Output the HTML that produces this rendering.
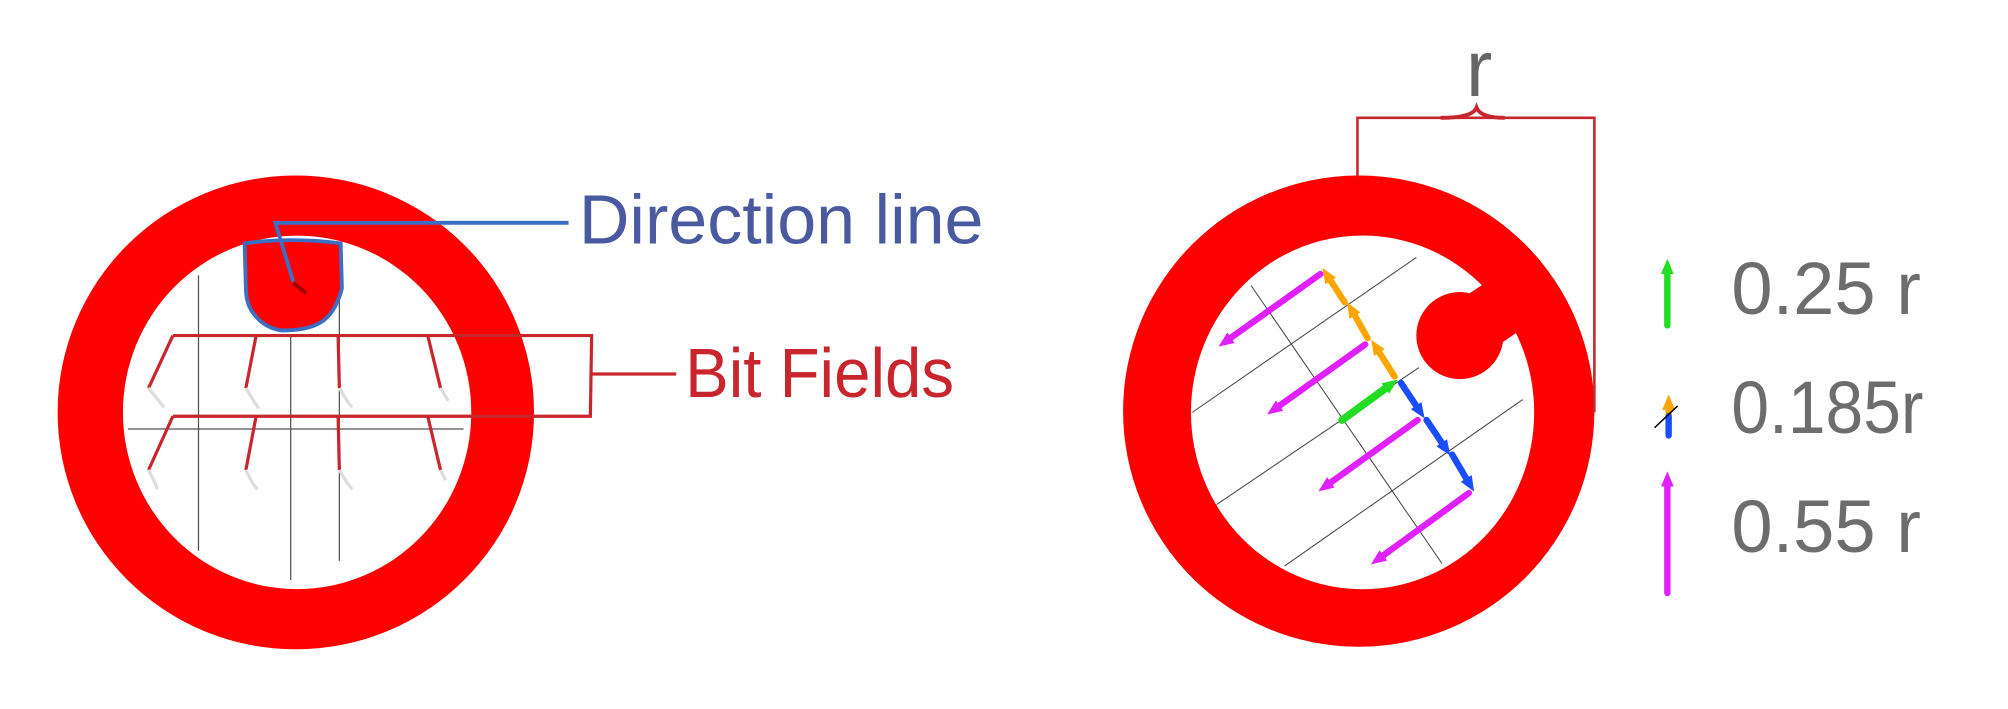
<!DOCTYPE html>
<html><head><meta charset="utf-8"><style>
html,body{margin:0;padding:0;background:#fff;width:2008px;height:709px;overflow:hidden}
svg{display:block}
text{font-family:"Liberation Sans",sans-serif}
</style></head><body>
<svg width="2008" height="709" viewBox="0 0 1568 553.6" xmlns="http://www.w3.org/2000/svg">
<defs>
<marker id="hm" markerUnits="userSpaceOnUse" markerWidth="12" markerHeight="10" refX="4" refY="5" orient="auto"><path d="M0,0 L12,5 L0,10 z" fill="#e020ff"/></marker>
<marker id="ho" markerUnits="userSpaceOnUse" markerWidth="12" markerHeight="10" refX="4" refY="5" orient="auto"><path d="M0,0 L12,5 L0,10 z" fill="#ffa500"/></marker>
<marker id="hg" markerUnits="userSpaceOnUse" markerWidth="12" markerHeight="10" refX="4" refY="5" orient="auto"><path d="M0,0 L12,5 L0,10 z" fill="#22dd22"/></marker>
<marker id="hb" markerUnits="userSpaceOnUse" markerWidth="12" markerHeight="10" refX="4" refY="5" orient="auto"><path d="M0,0 L12,5 L0,10 z" fill="#1a4dff"/></marker>
</defs>
<g>
<path fill="#ff0000" fill-rule="evenodd" d="M45,322 a186,185 0 1,0 372,0 a186,185 0 1,0 -372,0 Z M96,322 a136,138 0 1,0 272,0 a136,138 0 1,0 -272,0 Z"/>
<g stroke="#555" stroke-width="1">
<line x1="155" y1="215" x2="155" y2="430"/><line x1="227" y1="262" x2="227" y2="453"/><line x1="265" y1="212" x2="265" y2="438"/>
<line x1="100" y1="335" x2="362" y2="335"/>
</g>
<path d="M191,190 Q228,185 266,190 L267,225 Q262,245 250,252 Q240,258 220,258 Q205,256 196,242 Q192,235 192,225 Z" fill="#ff0000" stroke="#3a6fc4" stroke-width="3"/>
<line x1="229" y1="221" x2="239" y2="229" stroke="#a00000" stroke-width="3"/>
<polyline points="229,220 215,174 444,174" fill="none" stroke="#3a6fc4" stroke-width="3"/>
<text x="452" y="190" font-size="54" fill="#4a5aa0" textLength="316" lengthAdjust="spacingAndGlyphs">Direction line</text>
<g stroke="#c8262c" stroke-width="2.5" fill="none">
<polyline points="135,262 462,262 461,325 135,325"/>
<line x1="462" y1="292" x2="528" y2="292"/>
<line x1="135" y1="262" x2="116" y2="303"/><line x1="200" y1="262" x2="192" y2="303"/><line x1="264" y1="262" x2="265" y2="303"/><line x1="334" y1="262" x2="344" y2="303"/>
<line x1="135" y1="325" x2="116" y2="367"/><line x1="200" y1="325" x2="192" y2="367"/><line x1="264" y1="325" x2="265" y2="367"/><line x1="334" y1="325" x2="344" y2="367"/>
</g>
<g stroke="#ddd" stroke-width="2.5" fill="none">
<path d="M116,303 l8,10 l4,5"/><path d="M192,303 l6,10 l4,6"/><path d="M265,303 l6,10 l4,5"/><path d="M344,303 l6,10"/>
<path d="M116,367 l5,10 l2,5"/><path d="M192,367 l5,10 l4,5"/><path d="M265,367 l6,10 l4,5"/><path d="M344,367 l4,8"/>
</g>
<text x="535" y="310" font-size="54" fill="#c8262c" textLength="210" lengthAdjust="spacingAndGlyphs">Bit Fields</text>
</g>
<g>
<path fill="#ff0000" fill-rule="evenodd" d="M877,321 a184,184 0 1,0 368,0 a184,184 0 1,0 -368,0 Z M930,322 a134,138 0 1,0 268,0 a134,138 0 1,0 -268,0 Z"/>
<line x1="1140" y1="262" x2="1205" y2="218" stroke="#ff0000" stroke-width="46"/>
<circle cx="1140" cy="262" r="34" fill="#ff0000"/>
<g stroke="#c8262c" stroke-width="2" fill="none">
<polyline points="1060,138 1060,92 1245,92 1245,322"/>
<path d="M1125,92 Q1150,92 1153,84 Q1156,92 1175,92" stroke-width="3"/>
</g>
<text x="1155" y="75" font-size="62" fill="#666" text-anchor="middle">r</text>
<g stroke="#444" stroke-width="0.8">
<line x1="931" y1="322" x2="1106" y2="201"/><line x1="950" y1="394" x2="1108" y2="287"/>
<line x1="1003" y1="442" x2="1189" y2="312"/><line x1="977" y1="223" x2="1126" y2="440"/>
</g>
<g stroke="#e020ff" stroke-width="5" stroke-linecap="round" marker-end="url(#hm)">
<line x1="1031" y1="214" x2="958" y2="266"/><line x1="1066" y1="269" x2="996" y2="319"/>
<line x1="1107" y1="328" x2="1036" y2="379"/><line x1="1147" y1="385" x2="1077" y2="436"/>
</g>
<g stroke="#ffa500" stroke-width="5" stroke-linecap="round" marker-end="url(#ho)">
<line x1="1089" y1="294" x2="1075" y2="272"/><line x1="1068" y1="264" x2="1056" y2="243"/><line x1="1050" y1="236" x2="1037" y2="216"/>
</g>
<line x1="1048" y1="328" x2="1085" y2="301" stroke="#22dd22" stroke-width="6" stroke-linecap="round" marker-end="url(#hg)"/>
<g stroke="#1a4dff" stroke-width="5" stroke-linecap="round" marker-end="url(#hb)">
<line x1="1094" y1="299" x2="1108" y2="320"/><line x1="1114" y1="328" x2="1128" y2="349"/><line x1="1134" y1="355" x2="1147" y2="377"/>
</g>
</g>
<g>
<line x1="1302" y1="254" x2="1302" y2="210" stroke="#22dd22" stroke-width="5" stroke-linecap="round" marker-end="url(#hg)"/>
<text x="1352" y="245" font-size="58" fill="#6d6d6d" textLength="148" lengthAdjust="spacingAndGlyphs">0.25  r</text>
<line x1="1303" y1="325" x2="1303" y2="316" stroke="#ffa500" stroke-width="5" marker-end="url(#ho)"/>
<line x1="1303" y1="325" x2="1303" y2="340" stroke="#1a4dff" stroke-width="5" stroke-linecap="round"/>
<line x1="1292" y1="334" x2="1310" y2="317" stroke="#000" stroke-width="1.2"/>
<text x="1352" y="338" font-size="58" fill="#6d6d6d" textLength="150" lengthAdjust="spacingAndGlyphs">0.185r</text>
<line x1="1302" y1="463" x2="1302" y2="376" stroke="#e020ff" stroke-width="5" stroke-linecap="round" marker-end="url(#hm)"/>
<text x="1352" y="431" font-size="58" fill="#6d6d6d" textLength="148" lengthAdjust="spacingAndGlyphs">0.55  r</text>
</g>
</svg>
</body></html>
